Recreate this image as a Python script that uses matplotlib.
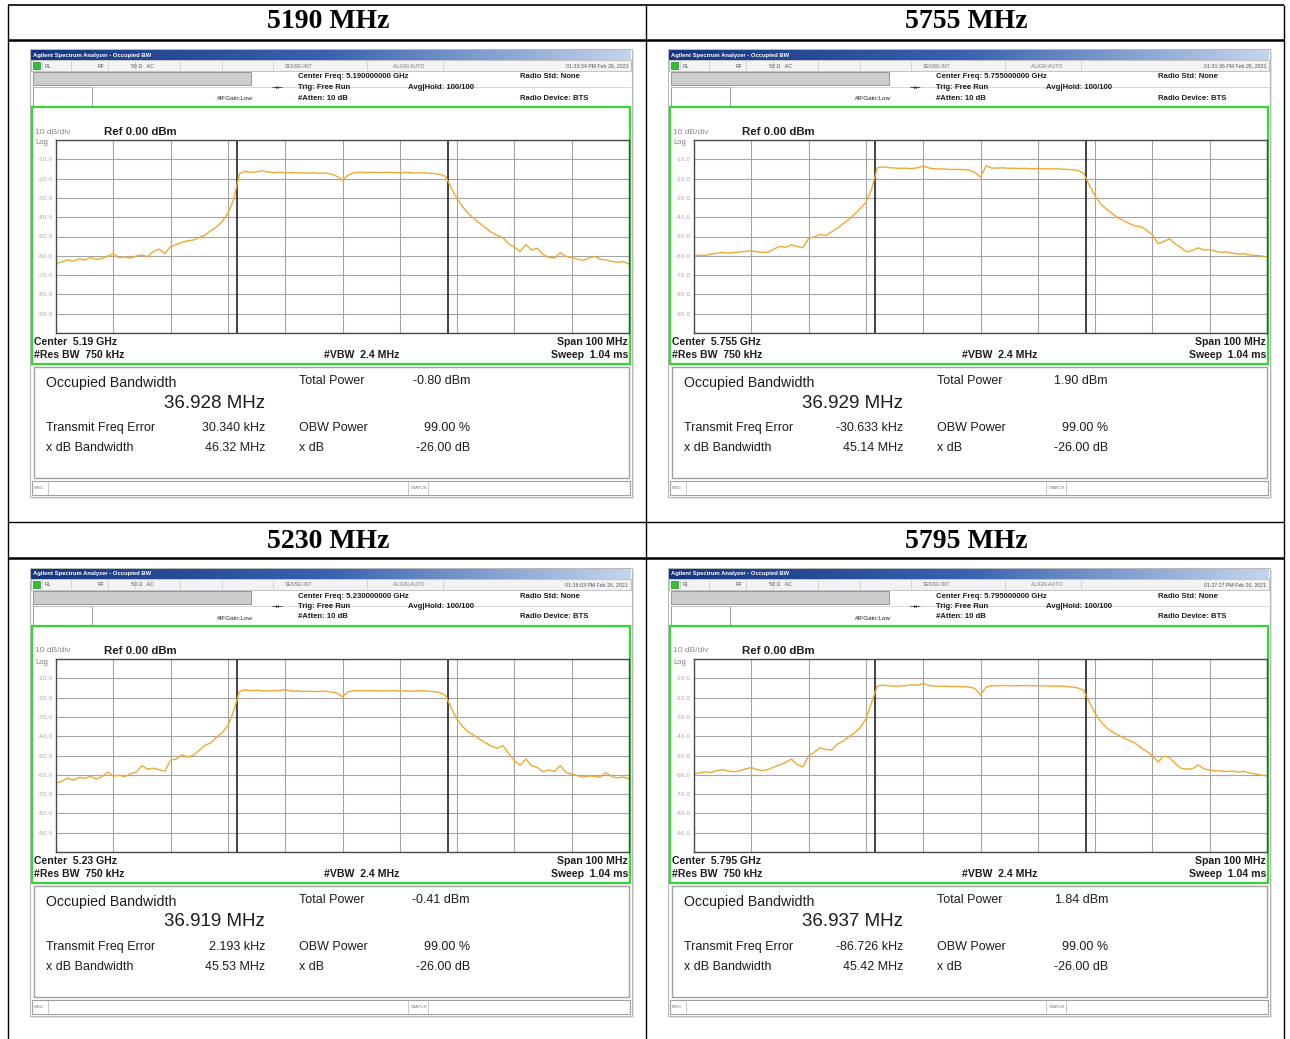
import numpy as np
import matplotlib
matplotlib.use("Agg")
import matplotlib.pyplot as plt
from matplotlib.colors import LinearSegmentedColormap
from matplotlib.patches import Rectangle

W, H = 1290, 1039

# --- measurement data -------------------------------------------------------
titles = ["5190 MHz", "5755 MHz", "5230 MHz", "5795 MHz"]
center_freq = ["5.190000000 GHz", "5.755000000 GHz", "5.230000000 GHz", "5.795000000 GHz"]
center_label = ["5.19 GHz", "5.755 GHz", "5.23 GHz", "5.795 GHz"]
timestamps = ["01:33:54 PM Feb 26, 2021", "01:31:36 PM Feb 26, 2021",
              "01:38:03 PM Feb 26, 2021", "01:27:27 PM Feb 26, 2021"]
total_power = ["-0.80 dBm", "1.90 dBm", "-0.41 dBm", "1.84 dBm"]
obw_mhz = [36.928, 36.929, 36.919, 36.937]
freq_error = ["30.340 kHz", "-30.633 kHz", "2.193 kHz", "-86.726 kHz"]
xdb_bw = ["46.32 MHz", "45.14 MHz", "45.53 MHz", "45.42 MHz"]

# offset from center, MHz (one sample per MHz over the 100 MHz span)
freq_offset = np.arange(-50, 51)

trace_5190 = [
    -64.0, -63.2, -62.1, -62.8, -61.5, -62.3, -60.8, -61.9, -61.4, -60.2,
    -59.0, -61.0, -60.6, -61.2, -60.1, -59.6, -60.4, -57.8, -56.5, -58.9,
    -55.2, -54.1, -53.0, -52.2, -51.8, -50.5, -49.3, -47.0, -45.1, -42.3,
    -38.0, -31.0, -17.5, -16.2, -16.8, -16.5, -15.9, -16.6, -16.9, -16.7,
    -17.0, -16.8, -17.1, -16.9, -17.2, -17.0, -17.3, -17.1, -17.6, -18.8,
    -20.8,
    -18.2, -17.0, -16.6, -16.9, -16.7, -16.8, -16.9, -16.7, -16.9, -17.0,
    -16.8, -16.9, -17.1, -17.0, -17.2, -17.4, -17.8, -18.9, -25.0, -30.5,
    -34.8, -38.2, -40.9, -43.2, -45.6, -47.8, -49.4, -50.6, -53.9, -55.5,
    -57.8, -54.2, -57.0, -56.1, -59.3, -60.8, -61.2, -58.4, -60.3, -60.9,
    -61.7, -62.4, -61.2, -60.3, -61.8, -62.1, -62.9, -63.4, -63.0, -64.3,
]
trace_5755 = [
    -60.2, -59.6, -59.8, -59.1, -58.7, -58.2, -58.6, -58.3, -58.0, -57.7,
    -57.5, -57.9, -58.3, -58.0, -56.4, -55.1, -55.6, -54.3, -55.2, -55.8,
    -51.0, -50.2, -48.9, -49.5, -47.6, -45.8, -43.4, -41.2, -38.5, -35.6,
    -32.4, -25.5, -14.4, -13.9, -14.3, -14.5, -14.7, -14.6, -14.8, -14.4,
    -13.6, -14.5, -14.9, -15.0, -15.1, -15.3, -15.2, -15.4, -15.6, -16.8,
    -19.2,
    -13.3, -14.6, -14.5, -14.4, -14.7, -14.6, -14.8, -14.7, -14.9, -14.8,
    -14.9, -15.0, -14.9, -15.1, -15.2, -15.4, -15.8, -17.2, -23.5, -29.0,
    -33.2, -35.9, -38.1, -40.3, -41.8, -43.3, -44.6, -44.9, -46.8, -49.2,
    -53.8, -52.6, -51.2, -53.9, -55.8, -58.0, -57.2, -55.9, -57.0, -56.8,
    -57.6, -58.2, -58.0, -58.7, -59.1, -58.9, -59.6, -59.8, -60.1, -60.5,
]
trace_5230 = [
    -64.2, -63.5, -61.6, -62.8, -61.4, -61.9, -60.8, -62.2, -61.0, -58.6,
    -60.7, -60.2, -61.0, -59.4, -58.6, -55.3, -57.1, -56.6, -57.4, -58.2,
    -52.4, -51.8, -49.6, -50.8, -49.9, -47.2, -44.8, -43.5, -40.6, -38.2,
    -34.5, -27.0, -16.9, -16.0, -16.4, -16.2, -16.5, -16.6, -16.3, -16.5,
    -15.8, -16.7, -16.6, -16.8, -16.7, -16.9, -16.8, -16.6, -17.1, -17.6,
    -19.6,
    -17.0, -16.4, -16.5, -16.3, -16.5, -16.4, -16.6, -16.5, -16.4, -16.6,
    -16.5, -16.7, -16.6, -16.4, -16.7, -16.9, -17.5, -18.8, -25.6, -31.2,
    -35.1, -37.9, -39.6, -41.7, -43.5, -45.2, -46.3, -44.9, -49.0, -52.6,
    -55.0, -51.8, -55.3, -56.2, -58.4, -57.5, -58.3, -55.2, -58.8, -59.6,
    -60.4, -61.3, -60.6, -60.8, -61.2, -58.9, -61.0, -61.6, -61.2, -62.1,
]
trace_5795 = [
    -59.4, -59.0, -58.4, -58.9, -57.8, -57.3, -58.1, -58.4, -57.9, -57.0,
    -56.2, -57.4, -57.8, -57.2, -56.0, -54.8, -53.6, -51.9, -54.7, -55.9,
    -50.1, -48.3, -46.0, -46.9, -47.2, -44.1, -42.6, -40.4, -38.3, -35.6,
    -31.0, -22.5, -14.0, -13.6, -13.9, -14.1, -14.0, -13.8, -13.4, -13.6,
    -12.7, -13.7, -14.0, -14.2, -14.1, -14.3, -14.2, -14.4, -14.5, -15.2,
    -18.6,
    -14.6, -13.8, -13.9, -13.7, -13.8, -13.9, -13.8, -13.7, -13.9, -13.8,
    -13.9, -14.0, -14.1, -14.0, -14.3, -14.5, -15.0, -16.2, -22.4, -28.1,
    -32.5, -35.6, -37.8, -39.4, -40.9, -42.3, -43.6, -46.0, -47.8, -50.0,
    -53.4, -50.3, -51.1, -54.2, -56.6, -57.1, -56.8, -54.9, -56.9, -57.6,
    -57.9, -58.1, -58.3, -58.0, -58.6, -58.2, -59.1, -59.6, -60.2, -60.6,
]
traces = [trace_5190, trace_5755, trace_5230, trace_5795]

# panel origins (pixels) in the 2x2 table
offsets = [(0, 0), (638, 0), (0, 519), (638, 519)]

SANS = "Liberation Sans"
TEXT = "#1c1c1c"

fig = plt.figure(figsize=(W / 100, H / 100), dpi=100)
bg = fig.add_axes([0, 0, 1, 1])
bg.axis("off")

title_cmap = LinearSegmentedColormap.from_list("bar", ["#17357f", "#3a63b0", "#c5d5ec"])
grad = np.linspace(0, 1, 256)[None, :]


def text(x, y, s, size=7, ha="left", color=TEXT, weight="normal", family=SANS):
    bg.text(x, y, s, fontsize=size, ha=ha, va="center", color=color,
            fontweight=weight, family=family)


def box(x0, y0, x1, y1, fc="none", ec="#9a9a9a", lw=0.8, z=2):
    bg.add_patch(Rectangle((x0, y0), x1 - x0, y1 - y0, fc=fc, ec=ec, lw=lw, zorder=z))


def hline(y, x0, x1, color="black", lw=1.0):
    bg.plot([x0, x1], [y, y], color=color, lw=lw, solid_capstyle="butt", zorder=3)


def vline(x, y0, y1, color="black", lw=1.0):
    bg.plot([x, x], [y0, y1], color=color, lw=lw, solid_capstyle="butt", zorder=3)


# table grid
hline(5, 8, 1284, lw=1.2)
hline(40, 8, 1284, lw=1.8)
hline(522, 8, 1284, lw=1.0)
hline(558, 8, 1284, lw=1.8)
vline(8, 5, 1039, lw=1.0)
vline(646, 5, 1039, lw=1.0)
vline(1284, 5, 1039, lw=1.0)

for k, (ox, oy) in enumerate(offsets):
    # column header
    bg.text(ox + 328, oy + 22, titles[k], fontsize=20, ha="center", va="center",
            family="Liberation Serif", fontweight="bold", color="black")

    # analyzer window
    box(ox + 32, oy + 51, ox + 634, oy + 499, fc="#e6e6e6", ec="none", z=1)
    box(ox + 30, oy + 49, ox + 632, oy + 497, fc="white", ec="#b8b8b8", lw=0.8, z=1)
    bg.imshow(grad, extent=[ox + 31, ox + 631, oy + 60, oy + 50], cmap=title_cmap,
              aspect="auto", zorder=2)
    text(ox + 33, oy + 55, "Agilent Spectrum Analyzer - Occupied BW", size=4.2,
         color="white", weight="bold")

    # status strip
    box(ox + 31, oy + 60, ox + 631, oy + 71, fc="#f3f3f3", ec="#b0b0b0", lw=0.5)
    for sx in [42, 71, 108, 135, 180, 222, 273, 367, 443]:
        vline(ox + sx, oy + 61, oy + 70, color="#c4c4c4", lw=0.5)
    box(ox + 33, oy + 62, ox + 40, oy + 69, fc="#2fbf2f", ec="#157015", lw=0.4, z=3)
    text(ox + 45, oy + 66, "RL", size=3.8, color="#555")
    text(ox + 98, oy + 66, "RF", size=3.8, color="#555")
    text(ox + 131, oy + 66, "50 \u03a9   AC", size=3.8, color="#555")
    text(ox + 285, oy + 66, "SENSE:INT", size=3.8, color="#777")
    text(ox + 393, oy + 66, "ALIGN AUTO", size=3.8, color="#777")
    text(ox + 628, oy + 66, timestamps[k], size=3.8, ha="right", color="#555")

    # settings area
    box(ox + 33, oy + 72, ox + 251, oy + 85, fc="#cdcdcd", ec="#8a8a8a", lw=0.6)
    hline(oy + 86.5, ox + 33, ox + 631, color="#c8c8c8", lw=0.5)
    box(ox + 33, oy + 87, ox + 92, oy + 106, fc="white", ec="#8a8a8a", lw=0.6)
    text(ox + 298, oy + 77, "Center Freq: " + center_freq[k], size=5.6, weight="bold")
    text(ox + 298, oy + 87.5, "Trig: Free Run", size=5.6, weight="bold")
    text(ox + 298, oy + 98, "#Atten: 10 dB", size=5.6, weight="bold")
    text(ox + 408, oy + 87.5, "Avg|Hold: 100/100", size=5.6, weight="bold")
    text(ox + 520, oy + 77, "Radio Std: None", size=5.6, weight="bold")
    text(ox + 520, oy + 98, "Radio Device: BTS", size=5.6, weight="bold")
    text(ox + 217, oy + 99, "#IFGain:Low", size=4.6)
    text(ox + 272, oy + 89, "\u2192\u2190", size=5, family="DejaVu Sans")

    # green measurement frame
    box(ox + 32, oy + 107, ox + 630, oy + 364, ec="#35d635", lw=1.6, z=4)
    text(ox + 35, oy + 132, "10 dB/div", size=6, color="#888")
    text(ox + 104, oy + 132, "Ref 0.00 dBm", size=8.2, weight="bold")
    text(ox + 35, oy + 143, "Log", size=5.5, color="#777")
    text(ox + 34, oy + 342, "Center  " + center_label[k], size=7.6, weight="bold")
    text(ox + 34, oy + 355, "#Res BW  750 kHz", size=7.6, weight="bold")
    text(ox + 362, oy + 355, "#VBW  2.4 MHz", size=7.6, weight="bold", ha="center")
    text(ox + 628, oy + 342, "Span 100 MHz", size=7.6, weight="bold", ha="right")
    text(ox + 628, oy + 355, "Sweep  1.04 ms", size=7.6, weight="bold", ha="right")

    # spectrum trace
    ax = fig.add_axes([(ox + 56) / W, 1 - (oy + 333) / H, 573 / W, 193 / H])
    ax.set_xlim(-50, 50)
    ax.set_ylim(-100, 0)
    ax.set_xticks(np.arange(-50, 51, 10))
    yt = np.arange(-100, 1, 10)
    ax.set_yticks(yt)
    ax.set_yticklabels(["" if v in (0, -100) else f"{v:.1f}" for v in yt])
    ax.tick_params(axis="x", length=0, labelbottom=False)
    ax.tick_params(axis="y", length=0, labelsize=4.2, labelcolor="#a8a8a8", pad=2)
    ax.grid(True, color="#a4a4a4", lw=0.8)
    for sp in ax.spines.values():
        sp.set_color("#4a4a4a")
        sp.set_linewidth(1.0)
    half = obw_mhz[k] / 2
    ax.axvline(-half, color="#333333", lw=1.3)
    ax.axvline(half, color="#333333", lw=1.3)
    ax.plot(freq_offset, traces[k], color="#f0a932", lw=1.0)

    # results table
    box(ox + 34, oy + 367, ox + 629, oy + 478, fc="white", ec="#a0a0a0", lw=1.0)
    text(ox + 46, oy + 383, "Occupied Bandwidth", size=10.2)
    text(ox + 265, oy + 403, f"{obw_mhz[k]:.3f} MHz", size=13.5, ha="right")
    text(ox + 46, oy + 428, "Transmit Freq Error", size=9.0)
    text(ox + 265, oy + 428, freq_error[k], size=9.0, ha="right")
    text(ox + 46, oy + 448, "x dB Bandwidth", size=9.0)
    text(ox + 265, oy + 448, xdb_bw[k], size=9.0, ha="right")
    text(ox + 299, oy + 381, "Total Power", size=9.0)
    text(ox + 470, oy + 381, total_power[k], size=9.0, ha="right")
    text(ox + 299, oy + 428, "OBW Power", size=9.0)
    text(ox + 470, oy + 428, "99.00 %", size=9.0, ha="right")
    text(ox + 299, oy + 448, "x dB", size=9.0)
    text(ox + 470, oy + 448, "-26.00 dB", size=9.0, ha="right")

    # message / status bar
    box(ox + 32, oy + 481, ox + 630, oy + 495, fc="white", ec="#a0a0a0", lw=0.8)
    vline(ox + 48, oy + 482, oy + 494, color="#b0b0b0", lw=0.5)
    vline(ox + 408, oy + 482, oy + 494, color="#b0b0b0", lw=0.5)
    vline(ox + 428, oy + 482, oy + 494, color="#b0b0b0", lw=0.5)
    text(ox + 34, oy + 488, "MSG", size=3.2, color="#777")
    text(ox + 411, oy + 488, "STATUS", size=3.2, color="#777")

bg.set_xlim(0, W)
bg.set_ylim(H, 0)

fig.savefig("out.png", dpi=100)
